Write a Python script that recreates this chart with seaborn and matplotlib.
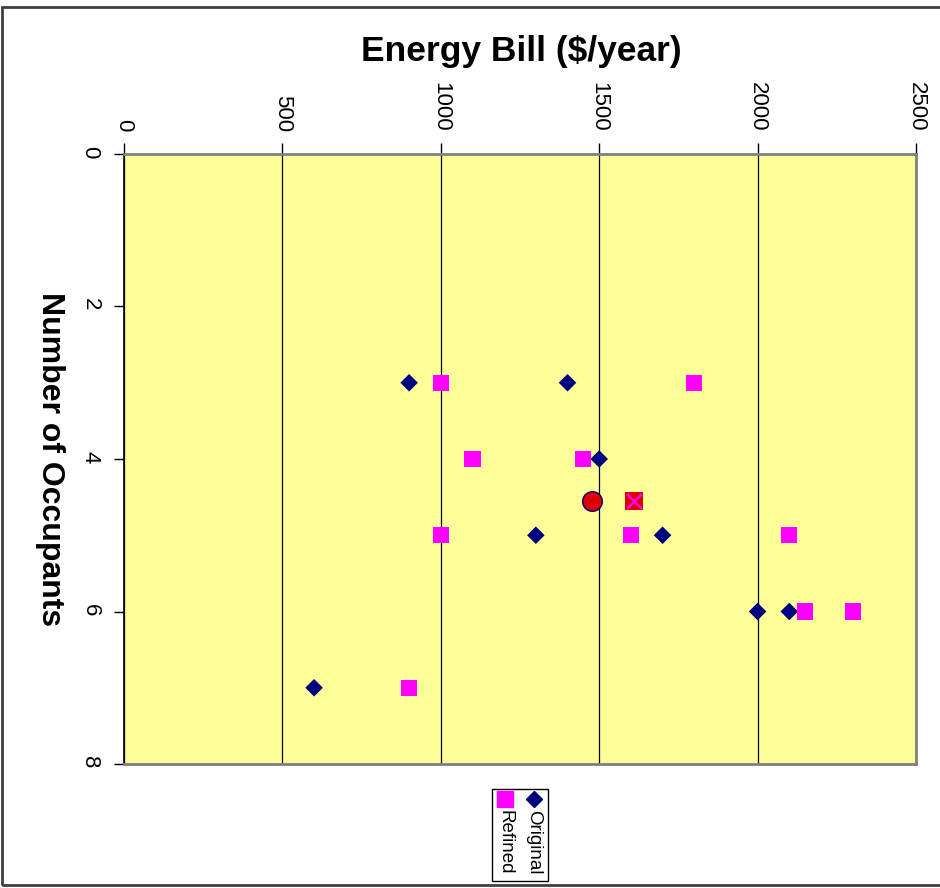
import matplotlib
matplotlib.use("Agg")
import matplotlib.pyplot as plt
import seaborn as sns
from matplotlib.patches import Rectangle
from matplotlib.lines import Line2D

sns.set_theme(style="white")
plt.rcParams['font.family'] = ['Liberation Sans', 'DejaVu Sans']

# Survey results: annual energy bill against household size
original_bill = [900, 1400, 1500, 1300, 1700, 2000, 2100, 600]
original_occupants = [3, 3, 4, 5, 5, 6, 6, 7]
refined_bill = [1000, 1800, 1100, 1450, 1000, 1600, 2100, 2150, 2300, 900]
refined_occupants = [3, 3, 4, 4, 5, 5, 5, 6, 6, 7]

# Summary points for each series
original_avg_bill = [1477]
original_avg_occupants = [4.55]
refined_avg_bill = [1610]
refined_avg_occupants = [4.55]

bill_ticks = [0, 500, 1000, 1500, 2000, 2500]
occupant_ticks = [0, 2, 4, 6, 8]

W, H = 940, 888
fig = plt.figure(figsize=(W / 100, H / 100), dpi=100)
fig.patch.set_facecolor("white")

ax = fig.add_axes([124 / W, 1 - 764 / H, (916 - 124) / W, (764 - 154) / H])
ax.set_facecolor("#FFFF99")

sns.scatterplot(x=original_bill, y=original_occupants, marker="D", s=80,
                color="#000080", edgecolor="none", ax=ax, zorder=3)
sns.scatterplot(x=refined_bill, y=refined_occupants, marker="s", s=135,
                color="#FF00FF", edgecolor="none", ax=ax, zorder=4)
sns.scatterplot(x=original_avg_bill, y=original_avg_occupants, marker="o", s=200,
                color="#DD0000", edgecolor="#000080", linewidth=1, ax=ax, zorder=5)
sns.scatterplot(x=refined_avg_bill, y=refined_avg_occupants, marker="s", s=155,
                color="#DD0000", edgecolor="none", ax=ax, zorder=5)
sns.scatterplot(x=refined_avg_bill, y=refined_avg_occupants, marker="x", s=115,
                color="#FF00FF", linewidth=1.6, ax=ax, zorder=6)

ax.set_xlim(0, 2500)
ax.set_ylim(8, 0)
ax.set_xticks(bill_ticks)
ax.set_xticklabels([str(v) for v in bill_ticks])
ax.set_yticks(occupant_ticks)
ax.set_yticklabels([str(v) for v in occupant_ticks])

ax.grid(True, axis="x", color="black", linewidth=0.9)
ax.grid(False, axis="y")
ax.set_axisbelow(True)

ax.xaxis.tick_top()
ax.tick_params(axis="x", which="both", top=True, bottom=False, direction="out",
               length=8, width=1, color="black", labelsize=16,
               labelcolor="black", labelrotation=-90, pad=8)
ax.tick_params(axis="y", which="both", left=True, direction="out",
               length=7, width=1, color="black", labelsize=16,
               labelcolor="black", labelrotation=-90, pad=10)

for side in ["top", "right", "bottom"]:
    ax.spines[side].set_color("#808080")
    ax.spines[side].set_linewidth(2)
ax.spines["left"].set_color("black")
ax.spines["left"].set_linewidth(1.2)
ax.set_xlabel("")
ax.set_ylabel("")

fig.text(521 / W, 1 - 51 / H, "Energy Bill ($/year)", fontsize=25.5,
         fontweight="bold", ha="center", va="center", color="black")
fig.text(50 / W, 1 - 459 / H, "Number of Occupants", fontsize=23,
         fontweight="bold", ha="center", va="center", rotation=-90, color="black")

# Legend box, turned a quarter to match the axes text
fig.add_artist(Rectangle((492 / W, 1 - 881 / H), (548 - 492) / W, (881 - 789) / H,
                         transform=fig.transFigure, facecolor="white",
                         edgecolor="black", linewidth=1))
fig.add_artist(Line2D([534 / W], [1 - 799 / H], transform=fig.transFigure,
                      marker="D", markersize=8.5, color="#000080", linestyle="none"))
fig.add_artist(Line2D([505 / W], [1 - 799 / H], transform=fig.transFigure,
                      marker="s", markersize=11, color="#FF00FF", linestyle="none"))
fig.text(534 / W, 1 - 810 / H, "Original", fontsize=13.5, rotation=-90,
         ha="center", va="top", color="black")
fig.text(505 / W, 1 - 810 / H, "Refined", fontsize=13.5, rotation=-90,
         ha="center", va="top", color="black")

# Outer chart frame
fig.add_artist(Rectangle((2 / W, 1 - 885 / H), (945 - 2) / W, (885 - 7) / H,
                         transform=fig.transFigure, fill=False,
                         edgecolor="#404040", linewidth=2))

fig.savefig("out.png", dpi=100)
